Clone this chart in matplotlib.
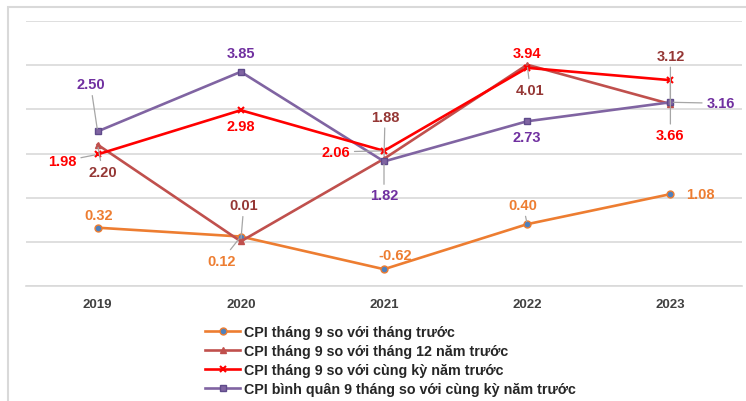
import matplotlib
matplotlib.use("Agg")
import matplotlib.pyplot as plt
from matplotlib.patches import Rectangle

plt.rcParams['font.family'] = ['Liberation Sans', 'DejaVu Sans']

years = ["2019", "2020", "2021", "2022", "2023"]
s_mom = [0.32, 0.12, -0.62, 0.40, 1.08]
s_dec = [2.20, 0.01, 1.88, 4.01, 3.12]
s_yoy = [1.98, 2.98, 2.06, 3.94, 3.66]
s_avg = [2.50, 3.85, 1.82, 2.73, 3.16]
names = [
    "CPI tháng 9 so với tháng trước",
    "CPI tháng 9 so với tháng 12 năm trước",
    "CPI tháng 9 so với cùng kỳ năm trước",
    "CPI bình quân 9 tháng so với cùng kỳ năm trước",
]

W, H = 746, 402
fig = plt.figure(figsize=(W / 100, H / 100), dpi=100)
fig.patches.append(Rectangle((8 / W, -0.1), 1.2, 1 - 8 / H + 0.1, transform=fig.transFigure,
                             fill=False, edgecolor='#D9D9D9', linewidth=1.5, zorder=0))
ax = fig.add_axes([26 / W, 1 - 287 / H, (742 - 26) / W, (287 - 22) / H])
x = list(range(len(years)))

ax.set_xlim(-0.5, len(years) - 0.5)
ax.set_ylim(-1, 5)
ax.set_yticks([-1, 0, 1, 2, 3, 4, 5])
ax.set_yticklabels([])
ax.tick_params(axis='y', length=0)
ax.grid(axis='y', color='#D9D9D9', linewidth=1.2)
ax.set_axisbelow(True)
for sp in ['top', 'right', 'left']:
    ax.spines[sp].set_visible(False)
ax.spines['bottom'].set_color('#D9D9D9')
ax.spines['bottom'].set_linewidth(1.2)
ax.set_xticks(x)
ax.set_xticklabels(years, fontsize=9.5, fontweight='bold', color='#404040')
ax.tick_params(axis='x', length=0, pad=9)

c_or, c_br, c_rd, c_pu = '#ED7D31', '#C0504D', '#FF0000', '#8064A2'
l1, = ax.plot(x, s_mom, color=c_or, lw=1.9, marker='o', ms=5, mfc='#4F81BD', mec=c_or, mew=1, label=names[0], zorder=3)
l2, = ax.plot(x, s_dec, color=c_br, lw=1.9, marker='^', ms=5, mfc=c_br, mec=c_br, label=names[1], zorder=3)
l3, = ax.plot(x, s_yoy, color=c_rd, lw=1.9, marker='x', ms=4.5, mec=c_rd, mew=1.5, label=names[2], zorder=4)
l4, = ax.plot(x, s_avg, color=c_pu, lw=1.9, marker='s', ms=5, mfc=c_pu, mec='#5F4B8B', label=names[3], zorder=3)

lab_or, lab_br, lab_rd, lab_pu = '#ED7D31', '#953735', '#FF0000', '#7030A0'

# offsets in pixels (dx, dy up), leader flag
offs = {
    'mom': [(1, 13, False), (-19, -24, True), (11, 14, False), (-4, 19, True), (30, 0, False)],
    'dec': [(5, -27, True), (3, 36, True), (1, 42, True), (3, -25, True), (0, 48, True)],
    'yoy': [(-35, -7, True), (0, -16, False), (-48, -1, True), (0, 15, False), (0, -55, True)],
    'avg': [(-7, 47, True), (0, 19, False), (0, -34, True), (0, -16, False), (50, -1, True)],
}
series = [('mom', s_mom, lab_or), ('dec', s_dec, lab_br), ('yoy', s_yoy, lab_rd), ('avg', s_avg, lab_pu)]
for key, vals, col in series:
    for i, v in enumerate(vals):
        dx, dy, lead = offs[key][i]
        kw = {}
        if lead:
            kw['arrowprops'] = dict(arrowstyle='-', color='#A6A6A6', lw=0.9, shrinkA=1, shrinkB=2)
        ax.annotate(f"{v:.2f}", (i, v), xytext=(dx, dy), textcoords='offset pixels',
                    ha='center', va='center', fontsize=10.5, fontweight='bold', color=col,
                    zorder=6, **kw)

leg = fig.legend(handles=[l1, l2, l3, l4], loc='upper left', bbox_to_anchor=(205 / W, 1 - 326 / H),
                 frameon=False, fontsize=10.3, handlelength=2.45, handletextpad=0.3,
                 labelspacing=0.36, borderpad=0, borderaxespad=0)
for t in leg.get_texts():
    t.set_fontweight('bold')
    t.set_color('#262626')

fig.savefig('out.png', dpi=100)
